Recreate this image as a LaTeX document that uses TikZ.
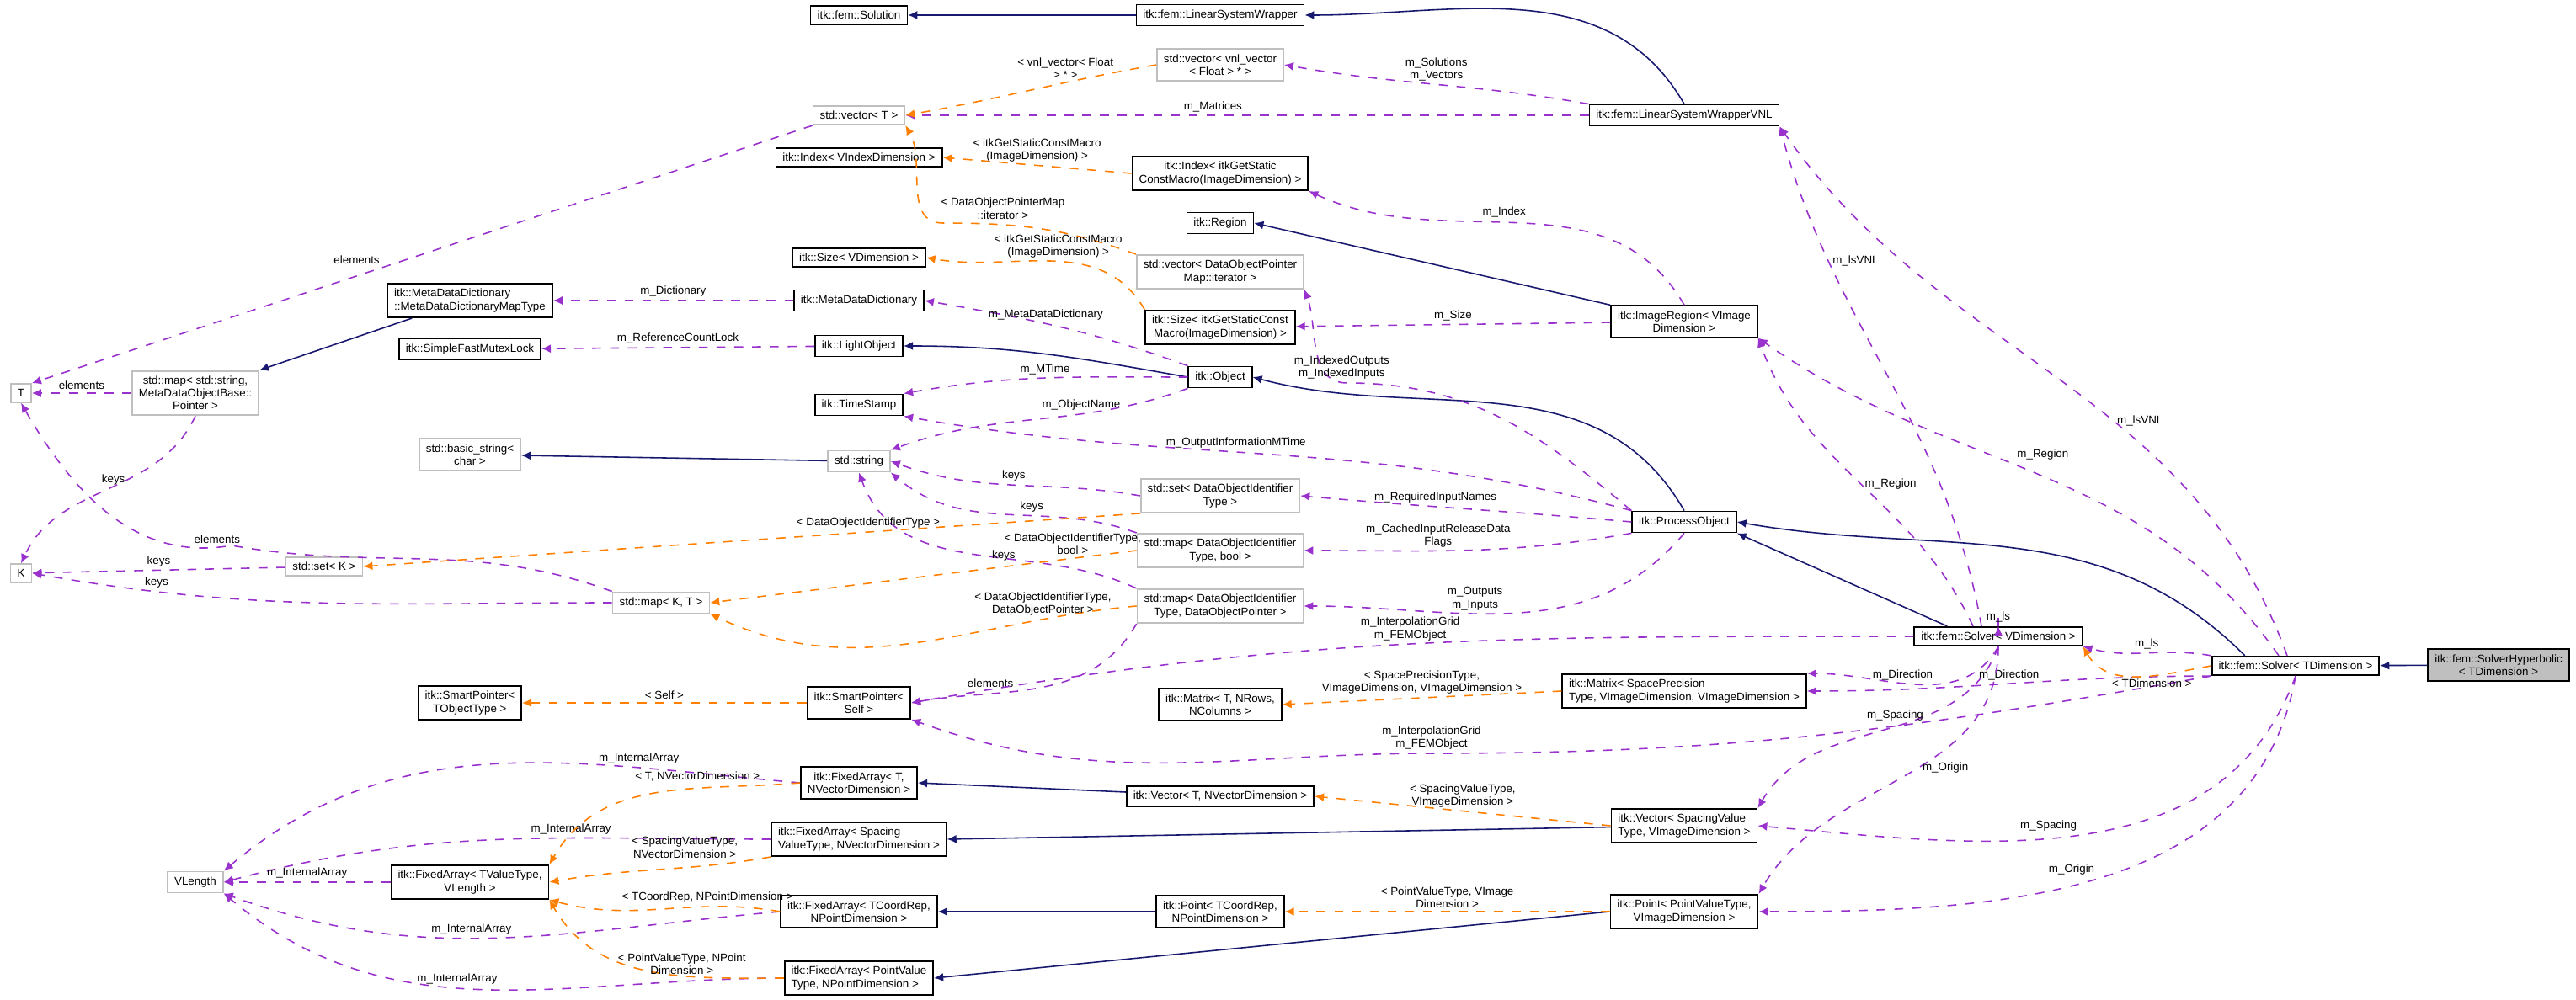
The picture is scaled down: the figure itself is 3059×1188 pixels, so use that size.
\documentclass[tikz,border=0pt]{standalone}
\usepackage{fontspec}
\setmainfont{Liberation Sans}
\usetikzlibrary{arrows.meta}
\begin{document}
\begin{tikzpicture}[x=0.01cm, y=-0.01cm,
    font=\fontsize{3.8}{4.3}\selectfont,
    cls/.style={rectangle, draw=black, line width=0.5pt, inner xsep=0.08cm, inner ysep=1.8pt, align=center, fill=white},
    ext/.style={cls, draw=gray!50},
    inh/.style={draw={rgb,255:red,25;green,25;blue,112}, line width=0.45pt, -{Latex[length=1.1mm,width=1mm]}},
    use/.style={draw={rgb,255:red,153;green,50;blue,204}, dashed, line width=0.45pt, -{Latex[length=1.1mm,width=1mm]}},
    tpl/.style={draw=orange, dashed, line width=0.45pt, -{Latex[length=1.1mm,width=1mm]}},
    lbl/.style={font=\fontsize{3.8}{4.3}\selectfont, align=center, inner sep=1pt}
]
\useasboundingbox (0,0) rectangle (3059,1188);

% === classes ===
\node[cls] (sol) at (1020,18) {itk::fem::Solution};
\node[cls] (lsw) at (1449,18) {itk::fem::LinearSystemWrapper};
\node[ext] (vnlvec) at (1449,77) {std::vector< vnl\_vector\\< Float > * >};
\node[ext] (vecT) at (1020,137) {std::vector< T >};
\node[cls] (lswvnl) at (2000,137) {itk::fem::LinearSystemWrapperVNL};
\node[cls] (idxV) at (1020,187) {itk::Index< VIndexDimension >};
\node[cls] (idxI) at (1449,206) {itk::Index< itkGetStatic\\ConstMacro(ImageDimension) >};
\node[cls] (region) at (1449,265) {itk::Region};
\node[ext] (vecDOP) at (1449,323) {std::vector< DataObjectPointer\\Map::iterator >};
\node[cls] (sizeV) at (1020,306) {itk::Size< VDimension >};
\node[cls] (sizeI) at (1449,389) {itk::Size< itkGetStaticConst\\Macro(ImageDimension) >};
\node[cls] (imgreg) at (2000,382) {itk::ImageRegion< VImage\\Dimension >};
\node[cls, align=left] (mdmap) at (558,357) {itk::MetaDataDictionary\\::MetaDataDictionaryMapType};
\node[cls] (mdd) at (1020,357) {itk::MetaDataDictionary};
\node[cls] (mutex) at (558,415) {itk::SimpleFastMutexLock};
\node[cls] (light) at (1020,411) {itk::LightObject};
\node[cls] (object) at (1449,448) {itk::Object};
\node[ext] (T) at (25,467) {T};
\node[ext] (mapStr) at (232,467) {std::map< std::string,\\MetaDataObjectBase::\\Pointer >};
\node[cls] (tstamp) at (1020,481) {itk::TimeStamp};
\node[ext] (bstr) at (558,540) {std::basic\_string<\\char >};
\node[ext] (str) at (1020,548) {std::string};
\node[ext] (setDO) at (1449,589) {std::set< DataObjectIdentifier\\Type >};
\node[cls] (procobj) at (2000,620) {itk::ProcessObject};
\node[ext] (mapBool) at (1449,654) {std::map< DataObjectIdentifier\\Type, bool >};
\node[ext] (mapDOP) at (1449,720) {std::map< DataObjectIdentifier\\Type, DataObjectPointer >};
\node[ext] (K) at (25,681) {K};
\node[ext] (setK) at (385,673) {std::set< K >};
\node[ext] (mapKT) at (785,716) {std::map< K, T >};
\node[cls] (spT) at (558,835) {itk::SmartPointer<\\TObjectType >};
\node[cls] (spS) at (1020,835) {itk::SmartPointer<\\Self >};
\node[cls] (solvV) at (2373,756) {itk::fem::Solver< VDimension >};
\node[cls] (solvT) at (2726,791) {itk::fem::Solver< TDimension >};
\node[cls, fill=gray!50, draw=black] (hyper) at (2967,790) {itk::fem::SolverHyperbolic\\< TDimension >};
\node[cls] (matT) at (1449,837) {itk::Matrix< T, NRows,\\NColumns >};
\node[cls, align=left] (matS) at (2000,821) {itk::Matrix< SpacePrecision\\Type, VImageDimension, VImageDimension >};
\node[cls] (faT) at (1020,930) {itk::FixedArray< T,\\NVectorDimension >};
\node[cls, align=left] (faS) at (1020,997) {itk::FixedArray< Spacing\\ValueType, NVectorDimension >};
\node[ext] (vlen) at (232,1048) {VLength};
\node[cls] (faTV) at (558,1048) {itk::FixedArray< TValueType,\\VLength >};
\node[cls] (faC) at (1020,1083) {itk::FixedArray< TCoordRep,\\NPointDimension >};
\node[cls, align=left] (faP) at (1020,1162) {itk::FixedArray< PointValue\\Type, NPointDimension >};
\node[cls] (vecTN) at (1449,946) {itk::Vector< T, NVectorDimension >};
\node[cls, align=left] (vecS) at (2000,981) {itk::Vector< SpacingValue\\Type, VImageDimension >};
\node[cls] (ptC) at (1449,1083) {itk::Point< TCoordRep,\\NPointDimension >};
\node[cls] (ptP) at (2000,1083) {itk::Point< PointValueType,\\VImageDimension >};

% === inheritance ===
\draw[inh] (lsw) -- (sol);
\draw[inh] (lswvnl.north) to[out=120, in=0] (lsw.east);
\draw[inh] (mdmap.south west) ++(30,0) coordinate (mdm) (mdm) -- (mapStr.north east);
\draw[inh] (object.west) to[out=170, in=0] (light.east);
\draw[inh] (str) -- (bstr);
\draw[inh] (imgreg.north west) -- (region.east);
\draw[inh] (procobj.north) to[out=120, in=-15] (object.east);
\draw[inh] (solvV.north west) ++(40,0) coordinate (sv) (sv) -- (procobj.south east);
\draw[inh] (solvT.north west) ++(40,0) coordinate (st) (st) to[out=135, in=-10] (procobj.east);
\draw[inh] (hyper) -- (solvT);
\draw[inh] (vecTN) -- (faT.east);
\draw[inh] (vecS) -- (faS.east);
\draw[inh] (ptC) -- (faC.east);
\draw[inh] (ptP.west) -- (faP.east);

% === usage ===
\draw[use] (vecT.south west) -- node[lbl, pos=0.55, above left] {elements} (T.north east);
\draw[use] (mapStr) -- node[lbl, above] {elements} (T);
\draw[use] (mapStr.south) to[out=-115, in=65] node[lbl, pos=0.4, left] {keys} (K.north);
\draw[use] (mapKT.north west) to[out=160, in=-10] (275,648) to[out=190, in=-60] node[lbl, pos=0.05, above] {elements} (T.south);
\draw[use] (setK) -- node[lbl, above] {keys} (K);
\draw[use] (mapKT) to[out=180, in=-10] node[lbl, pos=0.8, above] {keys} (K.east);
\draw[use] (mdd) -- node[lbl, above] {m\_Dictionary} (mdmap);
\draw[use] (light) -- node[lbl, above] {m\_ReferenceCountLock} (mutex);
\draw[use] (object.north west) to[out=160, in=-10] node[lbl, pos=0.55, above] {m\_MetaDataDictionary} (mdd.east);
\draw[use] (object.west) to[out=180, in=10] node[lbl, above] {m\_MTime} (tstamp.north east);
\draw[use] (object.south west) to[out=200, in=20] node[lbl, pos=0.35, above] {m\_ObjectName} (str.north east);
\draw[use] (procobj.north west) to[out=165, in=-10] node[lbl, pos=0.55, above] {m\_OutputInformationMTime} (tstamp.south east);
\draw[use] (setDO.west) to[out=170, in=-20] node[lbl, above] {keys} (str.east);
\draw[use] (mapBool.north west) to[out=160, in=-40] node[lbl, pos=0.4, above] {keys} (str.south east);
\draw[use] (mapDOP.north west) to[out=155, in=-70] node[lbl, pos=0.45, right] {keys} (str.south);
\draw[use] (mapDOP.south west) to[out=-120, in=10] node[lbl, pos=0.6, above left] {elements} (spS.east);
\draw[use] (lswvnl.north west) to[out=170, in=-10] node[lbl, above] {m\_Solutions\\m\_Vectors} (vnlvec.east);
\draw[use] (lswvnl) -- node[lbl, pos=0.55, above] {m\_Matrices} (vecT);
\draw[use] (imgreg.north) to[out=120, in=-25] node[lbl, pos=0.6, above right] {m\_Index} (idxI.south east);
\draw[use] (imgreg) -- node[lbl, above] {m\_Size} (sizeI);
\draw[use] (procobj.north west) to[out=140, in=0] (1600,455) to[out=180, in=-70] node[lbl, pos=0.05, above] {m\_IndexedOutputs\\m\_IndexedInputs} (vecDOP.south east);
\draw[use] (procobj.west) to[out=175, in=-5] node[lbl, pos=0.6, above] {m\_RequiredInputNames} (setDO.east);
\draw[use] (procobj.south west) to[out=190, in=0] node[lbl, pos=0.6, above] {m\_CachedInputReleaseData\\Flags} (mapBool.east);
\draw[use] (procobj.south) to[out=-130, in=0] node[lbl, pos=0.6, above] {m\_Outputs\\m\_Inputs} (mapDOP.east);
\draw[use] (solvV.west) to[out=180, in=10] node[lbl, pos=0.5, above] {m\_InterpolationGrid\\m\_FEMObject} (spS.east);
\draw[use] (solvT.south west) to[out=190, in=0] (1700,895) node[lbl, above] {m\_InterpolationGrid\\m\_FEMObject} to[out=180, in=-20] (spS.south east);
\draw[use] (solvV.north) ++(-20,0) coordinate (sv1) (sv1) to[out=100, in=-75] node[lbl, pos=0.75, right] {m\_lsVNL} (lswvnl.south east);
\draw[use] (solvT.north) ++(-10,0) coordinate (st1) (st1) to[out=110, in=-55] node[lbl, pos=0.4, right] {m\_lsVNL} (lswvnl.south east);
\draw[use] (solvV.north) ++(-30,0) coordinate (sv2) (sv2) to[out=115, in=-70] node[lbl, pos=0.5, right] {m\_Region} (imgreg.south east);
\draw[use] (solvT.north) ++(-20,0) coordinate (st2) (st2) to[out=125, in=-35] node[lbl, pos=0.55, above right] {m\_Region} (imgreg.south east);
\draw[use] (solvV.north) to[out=80, in=60, looseness=6] node[lbl, above] {m\_ls} (solvV.north);
\draw[use] (solvT.north west) to[out=170, in=-15] node[lbl, above] {m\_ls} (solvV.south east);
\draw[use] (solvV.south) to[out=-120, in=0] node[lbl, pos=0.4, above left] {m\_Direction} (matS.north east);
\draw[use] (solvT.south west) to[out=180, in=0] node[lbl, pos=0.5, above] {m\_Direction} (matS.east);
\draw[use] (solvV.south) to[out=-110, in=60] node[lbl, pos=0.35, left] {m\_Spacing} (vecS.north east);
\draw[use] (solvT.south) to[out=-110, in=-5] node[lbl, pos=0.5, above left] {m\_Spacing} (vecS.east);
\draw[use] (solvV.south) to[out=-90, in=60] node[lbl, pos=0.45, right] {m\_Origin} (ptP.north east);
\draw[use] (solvT.south) to[out=-100, in=0] node[lbl, pos=0.5, above left] {m\_Origin} (ptP.east);
\draw[use] (faT.west) to[out=175, in=40] node[lbl, pos=0.25, above] {m\_InternalArray} (vlen.north east);
\draw[use] (faS.west) to[out=180, in=15] node[lbl, pos=0.35, above] {m\_InternalArray} (vlen.east);
\draw[use] (faTV) -- node[lbl, above] {m\_InternalArray} (vlen);
\draw[use] (faC.west) to[out=185, in=-20] node[lbl, pos=0.55, above] {m\_InternalArray} (vlen.south east);
\draw[use] (faP.west) to[out=180, in=-40] node[lbl, pos=0.55, above] {m\_InternalArray} (vlen.south east);

% === templates ===
\draw[tpl] (vnlvec.west) to[out=190, in=10] node[lbl, pos=0.35, above] {< vnl\_vector< Float\\> * >} (vecT.east);
\draw[tpl] (vecDOP.north west) to[out=160, in=0] (1120,265) to[out=180, in=-60] node[lbl, pos=0.05, above right] {< DataObjectPointerMap\\::iterator >} (vecT.south east);
\draw[tpl] (idxI.west) -- node[lbl, above] {< itkGetStaticConstMacro\\(ImageDimension) >} (idxV.east);
\draw[tpl] (sizeI.north west) to[out=120, in=-10] node[lbl, pos=0.75, above right] {< itkGetStaticConstMacro\\(ImageDimension) >} (sizeV.east);
\draw[tpl] (setDO.south west) -- node[lbl, pos=0.35, above] {< DataObjectIdentifierType >} (setK.east);
\draw[tpl] (mapBool.west) -- node[lbl, pos=0.15, above] {< DataObjectIdentifierType,\\bool >} (mapKT.east);
\draw[tpl] (mapDOP.west) to[out=185, in=-25] node[lbl, pos=0.2, above] {< DataObjectIdentifierType,\\DataObjectPointer >} (mapKT.south east);
\draw[tpl] (spS) -- node[lbl, above] {< Self >} (spT);
\draw[tpl] (matS.west) -- node[lbl, above] {< SpacePrecisionType,\\VImageDimension, VImageDimension >} (matT.east);
\draw[tpl] (vecS.west) -- node[lbl, above] {< SpacingValueType,\\VImageDimension >} (vecTN.east);
\draw[tpl] (ptP) -- node[lbl, above] {< PointValueType, VImage\\Dimension >} (ptC);
\draw[tpl] (faT.west) to[out=185, in=60] node[lbl, pos=0.12, above left] {< T, NVectorDimension >} (faTV.north east);
\draw[tpl] (faS.south west) to[out=190, in=10] node[lbl, pos=0.12, above left] {< SpacingValueType,\\NVectorDimension >} (faTV.east);
\draw[tpl] (faC.west) to[out=170, in=-15] node[lbl, pos=0.3, above] {< TCoordRep, NPointDimension >} (faTV.south east);
\draw[tpl] (faP.west) to[out=180, in=-60] node[lbl, pos=0.12, above left] {< PointValueType, NPoint\\Dimension >} (faTV.south east);
\draw[tpl] (solvT.west) to[out=190, in=-60] node[lbl, pos=0.4, below] {< TDimension >} (solvV.south east);
\end{tikzpicture}
\end{document}
